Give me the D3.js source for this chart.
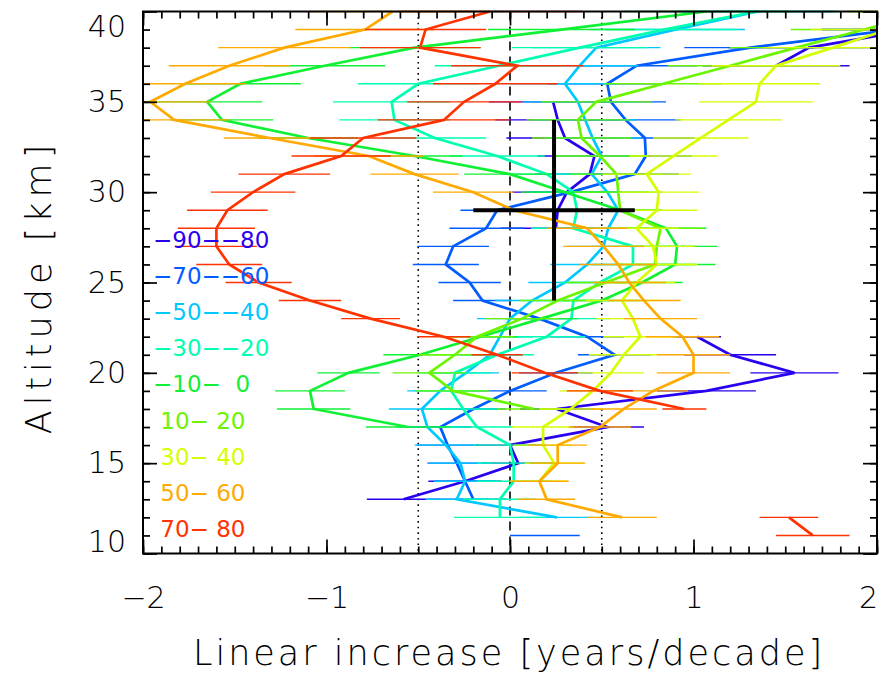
<!DOCTYPE html>
<html>
<head>
<meta charset="utf-8">
<script src="https://cdnjs.cloudflare.com/ajax/libs/d3/7.8.5/d3.min.js"></script>
<style>
	body { margin: 0; background: #fff; }
	svg text { font-family: "DejaVu Sans", "Liberation Sans", sans-serif; font-weight: 200; fill: #000; }
</style>
</head>
<body>
<svg id="chart" width="887" height="673"></svg>
<script>

// altitude levels (km), one value per level in every series below
var altitudes = [11,12,13,14,15,16,17,18,19,20,21,22,23,24,25,26,27,28,29,30,31,32,33,34,35,36,37,38,39,40];

var bandLabels = ["\u221290\u2212\u221280", "\u221270\u2212\u221260", "\u221250\u2212\u221240", "\u221230\u2212\u221220",
	"\u221210\u2212  0", " 10\u2212 20", " 30\u2212 40", " 50\u2212 60", " 70\u2212 80"];
var bandColors = ["#2a00f0", "#005cff", "#00c8ff", "#00ffb0", "#10f034", "#6cf500", "#d4ff00", "#ffaa00", "#ff3300"];

// linear increase [years/decade], null = no value
var valS90 = [null, null, -0.58, -0.245, 0.045, 0.0, 0.53, 0.255, 1.07, 1.55, 1.20, 1.02, null, null, null, null, null, 0.25, 0.26, 0.31, 0.435, 0.46, 0.30, 0.26, 0.235, null, 1.45, 1.63, 2.2, null];
var valS70 = [0.19, null, -0.20, -0.245, -0.29, -0.34, -0.38, -0.20, 0.0, 0.25, 0.57, 0.42, 0.16, -0.15, -0.22, -0.35, -0.31, -0.13, -0.07, 0.33, 0.68, 0.74, 0.735, 0.63, 0.55, 0.53, 0.69, 1.31, 2.1, null];
var valS50 = [null, 0.255, -0.29, -0.245, -0.27, -0.35, -0.45, -0.48, -0.38, -0.24, -0.11, -0.055, 0.0, 0.12, 0.30, 0.42, 0.51, 0.535, 0.59, 0.53, 0.445, 0.50, 0.45, 0.41, 0.37, 0.30, 0.38, 0.47, 0.9, 1.35];
var valS30 = [null, -0.055, -0.055, 0.02, 0.02, 0.0, -0.18, -0.255, -0.32, -0.30, -0.07, 0.20, 0.335, 0.345, 0.49, 0.67, 0.67, 0.345, 0.365, 0.345, 0.2, -0.07, -0.41, -0.63, -0.645, -0.50, -0.06, 0.38, 0.84, 1.34];
var valS10 = [null, null, null, null, null, null, -0.555, -1.07, -1.09, -0.88, -0.49, -0.16, 0.17, 0.50, 0.72, 0.90, 0.91, 0.85, 0.60, 0.30, 0.0, -0.52, -1.10, -1.57, -1.65, -1.47, -1.01, -0.52, 0.28, 1.07];
var valN10 = [null, null, null, null, null, null, null, 0.13, -0.31, -0.44, -0.30, -0.18, 0.065, 0.26, 0.52, 0.79, 0.80, 0.82, 0.60, 0.59, 0.58, 0.49, 0.39, 0.37, 0.47, 0.835, 1.2, 1.56, 1.93, 2.29];
var valN30 = [null, null, null, 0.16, 0.24, 0.18, 0.18, 0.33, 0.45, 0.55, 0.62, 0.71, 0.67, 0.61, 0.69, 0.80, 0.78, 0.69, 0.80, 0.81, 0.745, 0.89, 1.04, 1.19, 1.34, 1.36, 1.45, 1.76, 2.06, 2.36];
var valN50 = [null, 0.61, 0.20, 0.16, 0.26, 0.26, 0.49, 0.62, 0.78, 1.0, 1.0, 0.94, 0.82, 0.73, 0.65, 0.59, 0.51, 0.42, 0.02, -0.20, -0.52, -0.77, -1.31, -1.83, -1.96, -1.77, -1.53, -1.23, -0.79, -0.64];
var valN70 = [1.65, 1.52, null, null, null, null, null, 0.95, 0.49, 0.19, -0.07, -0.36, -0.76, -1.09, -1.37, -1.53, -1.60, -1.60, -1.54, -1.40, -1.23, -0.92, -0.80, -0.36, -0.25, -0.08, 0.04, -0.49, -0.46, -0.11];

// half widths of the horizontal error bars
var errS90 = [null, null, 0.2, 0.2, 0.19, 0.19, 0.2, 0.2, 0.27, 0.24, 0.25, 0.13, null, null, null, null, null, 0.3, 0.3, 0.3, 0.3, 0.31, 0.32, 0.34, 0.35, null, 0.4, 0.44, 0.5, null];
var errS70 = [0.19, null, 0.18, 0.17, 0.16, 0.17, 0.17, 0.18, 0.2, 0.2, 0.2, 0.2, 0.18, 0.16, 0.17, 0.18, 0.195, 0.2, 0.2, 0.22, 0.24, 0.25, 0.27, 0.3, 0.3, 0.32, 0.33, 0.36, 0.4, null];
var errS50 = [null, 0.2, 0.17, 0.17, 0.17, 0.17, 0.17, 0.18, 0.18, 0.18, 0.18, 0.18, 0.18, 0.2, 0.2, 0.2, 0.2, 0.22, 0.22, 0.22, 0.24, 0.25, 0.26, 0.28, 0.3, 0.3, 0.32, 0.35, 0.38, 0.42];
var errS30 = [null, 0.25, 0.2, 0.2, 0.2, 0.2, 0.2, 0.2, 0.2, 0.2, 0.2, 0.21, 0.21, 0.22, 0.22, 0.22, 0.22, 0.23, 0.23, 0.24, 0.25, 0.26, 0.28, 0.3, 0.32, 0.33, 0.35, 0.37, 0.4, 0.45];
var errS10 = [null, null, null, null, null, null, 0.23, 0.2, 0.19, 0.17, 0.2, 0.2, 0.2, 0.21, 0.22, 0.22, 0.22, 0.22, 0.23, 0.24, 0.25, 0.26, 0.27, 0.28, 0.3, 0.33, 0.33, 0.36, 0.4, 0.45];
var errN10 = [null, null, null, null, null, null, null, 0.2, 0.2, 0.2, 0.2, 0.2, 0.2, 0.21, 0.21, 0.22, 0.22, 0.23, 0.23, 0.24, 0.25, 0.26, 0.27, 0.28, 0.3, 0.32, 0.34, 0.36, 0.4, 0.45];
var errN30 = [null, null, null, 0.15, 0.16, 0.16, 0.17, 0.17, 0.18, 0.18, 0.19, 0.2, 0.2, 0.2, 0.21, 0.22, 0.22, 0.23, 0.22, 0.22, 0.24, 0.24, 0.26, 0.29, 0.31, 0.33, 0.35, 0.38, 0.42, 0.46];
var errN50 = [null, 0.19, 0.155, 0.16, 0.15, 0.16, 0.17, 0.18, 0.19, 0.2, 0.2, 0.2, 0.2, 0.2, 0.2, 0.21, 0.22, 0.22, 0.22, 0.22, 0.24, 0.3, 0.25, 0.3, 0.33, 0.33, 0.33, 0.36, 0.38, 0.45];
var errN70 = [0.2, 0.16, null, null, null, null, null, 0.12, 0.18, 0.18, 0.14, 0.145, 0.16, 0.17, 0.18, 0.18, 0.22, 0.21, 0.22, 0.23, 0.25, 0.27, 0.29, 0.36, 0.31, 0.34, 0.36, 0.33, 0.33, 0.5];

var xTicks = [-2, -1, 0, 1, 2];
var yTicks = [10, 15, 20, 25, 30, 35, 40];
var dottedLines = [-0.5, 0.5];
var dashedLines = [0];

// the black cross: mean increase and its spread
var crossX = 0.24, crossXErr = 0.44, crossAlt = 29, crossAltErr = 5;


var values = [valS90, valS70, valS50, valS30, valS10, valN10, valN30, valN50, valN70];
var errors = [errS90, errS70, errS50, errS30, errS10, errN10, errN30, errN50, errN70];

var plot = {left: 143, right: 877, top: 11.5, bottom: 553.5};

var svg = d3.select("#chart");

var x = d3.scaleLinear().domain([-2, 2]).range([plot.left, plot.right]);
var y = d3.scaleLinear().domain([10, 40]).range([plot.bottom, plot.top]);

svg.append("defs").append("clipPath")
	.attr("id", "plotClip")
	.append("rect")
	.attr("x", plot.left)
	.attr("y", plot.top - 2)
	.attr("width", plot.right - plot.left)
	.attr("height", plot.bottom - plot.top + 4);


// reference lines
var refs = svg.append("g").attr("class", "refLines");

refs.selectAll("line.dot")
	.data(dottedLines)
	.enter().append("line")
	.attr("class", "dot")
	.attr("x1", function(d) { return x(d); })
	.attr("x2", function(d) { return x(d); })
	.attr("y1", plot.top)
	.attr("y2", plot.bottom)
	.attr("stroke", "#000")
	.attr("stroke-width", 1.6)
	.attr("stroke-dasharray", "1.6,4");

refs.selectAll("line.dash")
	.data(dashedLines)
	.enter().append("line")
	.attr("class", "dash")
	.attr("x1", function(d) { return x(d); })
	.attr("x2", function(d) { return x(d); })
	.attr("y1", plot.top)
	.attr("y2", plot.bottom)
	.attr("stroke", "#000")
	.attr("stroke-width", 1.6)
	.attr("stroke-dasharray", "9,6");


// profiles with error bars
var series = svg.append("g").attr("clip-path", "url(#plotClip)");

var line = d3.line()
	.defined(function(d) { return d.v !== null; })
	.x(function(d) { return x(d.v); })
	.y(function(d) { return y(d.alt); });

values.forEach(function(vals, k)
{
	var pts = altitudes.map(function(a, i) { return {alt: a, v: vals[i], e: errors[k][i]}; });
	var g = series.append("g").attr("class", "band" + k);

	g.append("path")
	.datum(pts)
	.attr("d", line)
	.attr("fill", "none")
	.attr("stroke", bandColors[k])
	.attr("stroke-width", 2.7)
	.attr("stroke-linejoin", "miter");

	g.selectAll("line")
	.data(pts.filter(function(d) { return d.v !== null && d.e !== null; }))
	.enter().append("line")
	.attr("x1", function(d) { return x(d.v - d.e); })
	.attr("x2", function(d) { return x(d.v + d.e); })
	.attr("y1", function(d) { return y(d.alt); })
	.attr("y2", function(d) { return y(d.alt); })
	.attr("stroke", bandColors[k])
	.attr("stroke-width", 1.4);
});


// cross
var cross = svg.append("g").attr("class", "cross");

cross.append("line")
	.attr("x1", x(crossX))
	.attr("x2", x(crossX))
	.attr("y1", y(crossAlt - crossAltErr))
	.attr("y2", y(crossAlt + crossAltErr))
	.attr("stroke", "#000")
	.attr("stroke-width", 4);

cross.append("line")
	.attr("x1", x(crossX - crossXErr))
	.attr("x2", x(crossX + crossXErr))
	.attr("y1", y(crossAlt))
	.attr("y2", y(crossAlt))
	.attr("stroke", "#000")
	.attr("stroke-width", 4);


// axes, ticks on all four sides pointing inwards
function styleAxis(g)
{
	g.select(".domain").remove();
	g.selectAll(".tick line").attr("stroke", "#000").attr("stroke-width", 1.7);
	g.selectAll("text").style("font-size", "30px").attr("fill", "#000");
}

var xMinor = x.ticks(40);
var yMinor = y.ticks(30);

svg.append("g")
	.attr("transform", "translate(0," + plot.bottom + ")")
	.call(d3.axisBottom(x).tickValues(xMinor).tickSize(-7).tickFormat(""))
	.call(styleAxis);

var xAxis = svg.append("g")
	.attr("transform", "translate(0," + plot.bottom + ")")
	.call(d3.axisBottom(x).tickValues(xTicks).tickSize(-14).tickPadding(33).tickFormat(d3.format("d")))
	.call(styleAxis);

svg.append("g")
	.attr("transform", "translate(0," + plot.top + ")")
	.call(d3.axisTop(x).tickValues(xMinor).tickSize(-7).tickFormat(""))
	.call(styleAxis);

svg.append("g")
	.attr("transform", "translate(0," + plot.top + ")")
	.call(d3.axisTop(x).tickValues(xTicks).tickSize(-14).tickFormat(""))
	.call(styleAxis);

svg.append("g")
	.attr("transform", "translate(" + plot.left + ",0)")
	.call(d3.axisLeft(y).tickValues(yMinor).tickSize(-7).tickFormat(""))
	.call(styleAxis);

var yAxis = svg.append("g")
	.attr("transform", "translate(" + plot.left + ",0)")
	.call(d3.axisLeft(y).tickValues(yTicks).tickSize(-14).tickPadding(17).tickFormat(d3.format("d")))
	.call(styleAxis);

svg.append("g")
	.attr("transform", "translate(" + plot.right + ",0)")
	.call(d3.axisRight(y).tickValues(yMinor).tickSize(-7).tickFormat(""))
	.call(styleAxis);

svg.append("g")
	.attr("transform", "translate(" + plot.right + ",0)")
	.call(d3.axisRight(y).tickValues(yTicks).tickSize(-14).tickFormat(""))
	.call(styleAxis);

// the end labels sit inside the frame
yAxis.selectAll(".tick text")
	.attr("y", function(d) { return d === 40 ? 15 : (d === 10 ? -12 : 0); });
xAxis.selectAll(".tick text")
	.attr("x", function(d) { return d === 2 ? -9 : 0; });

svg.append("rect")
	.attr("x", plot.left)
	.attr("y", plot.top)
	.attr("width", plot.right - plot.left)
	.attr("height", plot.bottom - plot.top)
	.attr("fill", "none")
	.attr("stroke", "#000")
	.attr("stroke-width", 2);


// titles
svg.append("text")
	.attr("x", 509)
	.attr("y", 665)
	.attr("text-anchor", "middle")
	.style("font-size", "35px")
	.style("letter-spacing", "3px")
	.text("Linear increase [years/decade]");

svg.append("text")
	.attr("transform", "translate(51,287) rotate(-90)")
	.attr("text-anchor", "middle")
	.style("font-size", "35px")
	.style("letter-spacing", "5px")
	.text("Altitude [km]");


// legend
svg.append("g")
	.attr("class", "legend")
	.selectAll("text")
	.data(bandLabels)
	.enter().append("text")
	.attr("x", 153)
	.attr("y", function(d, i) { return 248 + i * 36.1; })
	.attr("xml:space", "preserve")
	.style("white-space", "pre")
	.style("font-size", "23px")
	.style("font-weight", 400)
	.style("fill", function(d, i) { return bandColors[i]; })
	.text(function(d) { return d; });

</script>
</body>
</html>
